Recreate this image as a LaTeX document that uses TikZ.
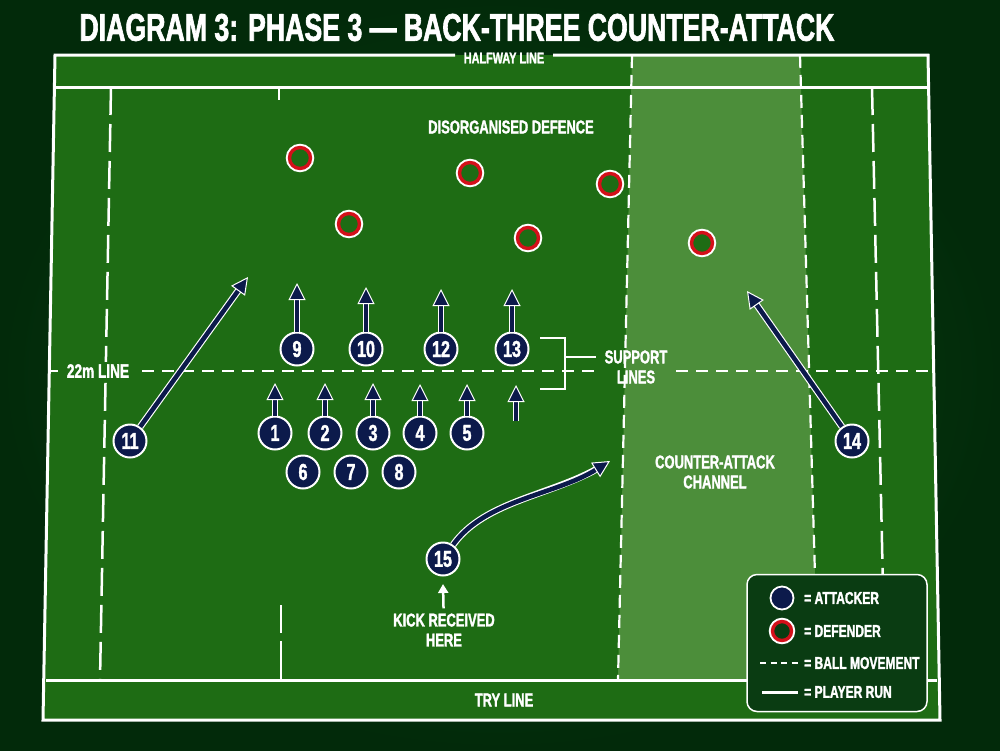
\documentclass[tikz,border=0pt]{standalone}
\usepackage{fontspec}
\usepackage{graphicx}
\newfontfamily\cf[FakeStretch=0.7,BoldFeatures={FakeBold=1.6}]{Liberation Sans}
\usetikzlibrary{arrows.meta}
\definecolor{bgdark}{HTML}{022A0A}
\definecolor{bgmid}{HTML}{0B4A14}
\definecolor{field}{HTML}{1E6C14}
\definecolor{chan}{HTML}{4C8E3A}
\definecolor{navy}{HTML}{0C1A4B}
\definecolor{dred}{HTML}{D4101A}
\definecolor{legbg}{HTML}{0A3C12}
\begin{document}
\begin{tikzpicture}[x=1pt,y=-1pt,
  lbl/.style={text=white,font=\cf\bfseries\fontsize{18.5}{20}\selectfont,align=center,inner sep=1pt},
  leglbl/.style={text=white,font=\cf\bfseries\fontsize{17.2}{18}\selectfont,anchor=west,inner sep=0pt},
  att/.style={circle,fill=navy,draw=white,line width=2pt,minimum size=33pt,inner sep=0pt,text=white,font=\cf\bfseries\fontsize{23}{23}\selectfont},
  def/.style={circle,fill=field,draw=dred,line width=3.4pt,minimum size=21pt,inner sep=0pt,preaction={draw=white,line width=7.4pt}},
  run/.style={draw=navy,line width=4.5pt,-{Triangle[length=17pt,width=17pt,fill=navy,color=white,line width=1pt]},preaction={draw=white,line width=6.8pt,shorten >=9pt,-}},
  fline/.style={draw=white,line width=3pt},
  thin/.style={draw=white,line width=2.5pt},
  longdash/.style={draw=white,line width=2.5pt,dash pattern=on 28pt off 9pt},
  shortdash/.style={draw=white,line width=2.2pt,dash pattern=on 13pt off 7pt},
  ballline/.style={draw=white,line width=2.5pt,dash pattern=on 12pt off 8pt}
]
\useasboundingbox (0,0) rectangle (1000,750);
% background
\shade[inner color=bgmid, outer color=bgdark] (0,0) rectangle (1000,750);
% title
\node[text=white,inner sep=0pt] (title) at (457,27.5)
  {\resizebox{755pt}{27pt}{\cf\bfseries DIAGRAM 3: PHASE 3 — BACK-THREE COUNTER-ATTACK}};
% field
\fill[field] (55,55) -- (928,55) -- (940,720) -- (43,720) -- cycle;
\fill[chan] (632,55) -- (800,55) -- (818,680) -- (618,680) -- cycle;
% channel edges
\draw[shortdash] (632,55) -- (618,680);
\draw[shortdash] (800,55) -- (818,680);
% long dashed lines
\draw[longdash] (111,87) -- (100,680);
\draw[longdash] (872,87) -- (885,680);
% short marks
\draw[thin] (279,87) -- (279,100);
\draw[thin] (281,605) -- (281,633);
\draw[thin] (281,641) -- (281,680);
% outer border and inner lines
\draw[fline] (455,55) -- (55,55) -- (43,720) -- (940,720) -- (928,55) -- (553,55);
\draw[fline] (54,87) -- (930,87);
\draw[fline] (46,680) -- (937,680);
% 22m line
\draw[ballline] (50,371) -- (58,371);
\draw[ballline] (142,371) -- (598,371);
\draw[ballline] (676,371) -- (934,371);
% labels
\node[lbl,font=\cf\bfseries\fontsize{15.5}{16}\selectfont] (halfway) at (504,58) {HALFWAY LINE};
\node[lbl] (tryline) at (504,700) {TRY LINE};
\node[lbl,fill=field,inner sep=2pt,font=\cf\bfseries\fontsize{19.5}{20}\selectfont] (l22) at (98,371) {22m LINE};
\node[lbl] (disorg) at (511,127) {DISORGANISED DEFENCE};
\node[lbl] (support) at (636,367) {SUPPORT\\LINES};
\node[lbl] (channel) at (715,472) {COUNTER-ATTACK\\CHANNEL};
\node[lbl] (kick) at (444,630) {KICK RECEIVED\\HERE};
% bracket
\coordinate (bt) at (540,338);
\coordinate (bb) at (540,389);
\coordinate (bm) at (596,357);
\draw[white,line width=1.5pt] (bt) -- (565,338) -- (565,389) -- (bb);
\draw[white,line width=1.5pt] (565,357) -- (bm);
% defenders
\node[def] (d1) at (300,158) {};
\node[def] (d2) at (349,224) {};
\node[def] (d3) at (470,173) {};
\node[def] (d4) at (528,238) {};
\node[def] (d5) at (610,184) {};
\node[def] (d6) at (702,243) {};
% arrow tips
\coordinate (t9) at (297,283);
\coordinate (t10) at (366,287);
\coordinate (t12) at (441,289);
\coordinate (t13) at (512,289);
\coordinate (t1) at (275,383);
\coordinate (t2) at (325,383);
\coordinate (t3) at (373,383);
\coordinate (t4) at (420,384);
\coordinate (t5) at (467,384);
\coordinate (bx) at (516,421);
\coordinate (tx) at (516,385);
\coordinate (t11) at (248,277);
\coordinate (t14) at (747,291);
\coordinate (t15) at (610,461);
\coordinate (tk) at (443,584);
% attackers
\node[att] (p9) at (297,349) {9};
\node[att] (p10) at (366,349) {10};
\node[att] (p12) at (441,349) {12};
\node[att] (p13) at (512,349) {13};
\node[att] (p1) at (275,433) {1};
\node[att] (p2) at (325,433) {2};
\node[att] (p3) at (373,433) {3};
\node[att] (p4) at (420,433) {4};
\node[att] (p5) at (467,433) {5};
\node[att] (p6) at (303,472) {6};
\node[att] (p7) at (351,472) {7};
\node[att] (p8) at (399,472) {8};
\node[att] (p11) at (130,441) {11};
\node[att] (p14) at (852,441) {14};
\node[att] (p15) at (443,559) {15};
% runs
\foreach \n in {9,10,12,13,1,2,3,4,5,11,14} {\draw[run] (p\n) -- (t\n);}
\draw[run] (bx) -- (tx);
\draw[run] (p15) .. controls (485,500) and (555,495) .. (t15);
\draw[white,line width=2.5pt,shorten <=4pt,-{Triangle[length=9pt,width=10pt]}] (kick) -- (tk);
% legend
\node[draw=white,line width=1.5pt,fill=legbg,rounded corners=10pt,minimum width=180pt,minimum height=137pt] (legend) at (837,643) {};
\node[att,minimum size=23pt,line width=1.8pt] (la) at (782,598) {};
\node[def,fill=legbg,minimum size=19pt] (ld) at (782,631) {};
\coordinate (lb1) at (760,663);
\coordinate (lb2) at (798,663);
\coordinate (lr1) at (762,692);
\coordinate (lr2) at (798,692);
\draw[white,line width=2.5pt,dash pattern=on 6pt off 4.5pt] (lb1) -- (lb2);
\draw[white,line width=3pt] (lr1) -- (lr2);
\node[leglbl] (lta) at (804,598) {= ATTACKER};
\node[leglbl] (ltd) at (804,631) {= DEFENDER};
\node[leglbl] (ltb) at (804,663) {= BALL MOVEMENT};
\node[leglbl] (ltr) at (804,692) {= PLAYER RUN};
\end{tikzpicture}
\end{document}
